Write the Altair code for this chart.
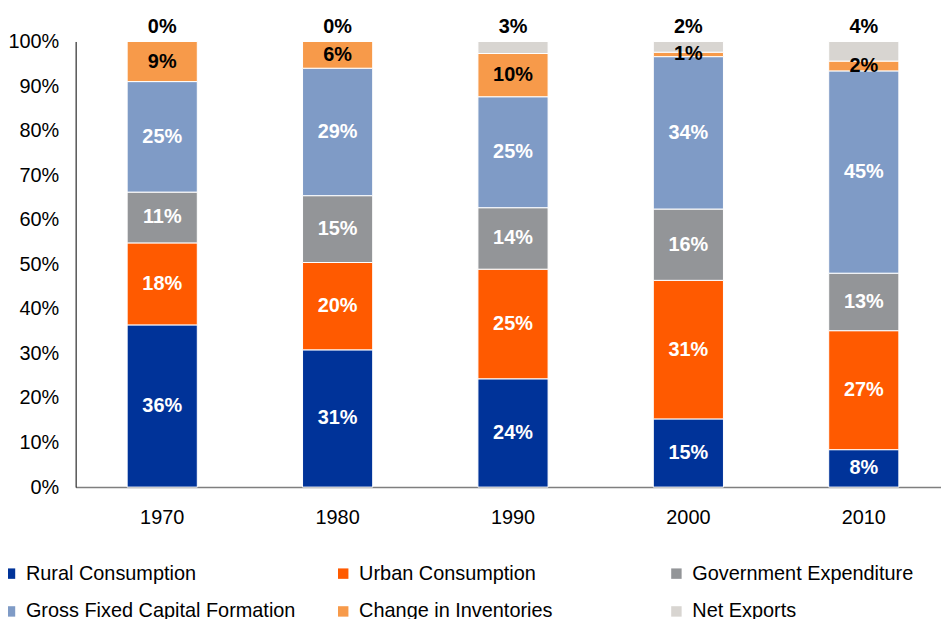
import altair as alt
import pandas as pd

years = ["1970", "1980", "1990", "2000", "2010"]
components = [
    "Rural Consumption",
    "Urban Consumption",
    "Government Expenditure",
    "Gross Fixed Capital Formation",
    "Change in Inventories",
    "Net Exports",
]
colors = ["#003399", "#FF5A00", "#939598", "#7F9BC6", "#F79A4A", "#D8D5D1"]

rural = [36.4, 30.8, 24.3, 15.3, 8.4]
urban = [18.4, 19.6, 24.6, 31.1, 26.7]
government = [11.4, 15.0, 13.8, 16.0, 12.9]
gfcf = [24.8, 28.6, 24.9, 34.2, 45.4]
inventories = [9.0, 6.0, 9.7, 1.0, 2.2]
net_exports = [0.0, 0.0, 2.7, 2.4, 4.4]

series = [rural, urban, government, gfcf, inventories, net_exports]
rows = []
for ci, (name, vals) in enumerate(zip(components, series)):
    for y, v in zip(years, vals):
        rows.append({"year": y, "component": name, "idx": ci, "value": v})
df = pd.DataFrame(rows)

FONT = "Liberation Sans"
FS = 20

base = alt.Chart(df).transform_stack(
    stack="value",
    groupby=["year"],
    sort=[alt.SortField("idx", order="ascending")],
    as_=["y0", "y1"],
).transform_calculate(
    mid="(datum.y0 + datum.y1) / 2",
    label="format(datum.value, '.0f') + '%'",
)

x_enc = alt.X(
    "year:N",
    sort=years,
    title=None,
    scale=alt.Scale(paddingInner=0.6, paddingOuter=0.267, align=0.55),
    axis=alt.Axis(
        labelAngle=0,
        labelFont=FONT,
        labelFontSize=FS,
        labelColor="#000000",
        labelPadding=21,
        ticks=False,
        domainColor="#7f7f7f",
        domainWidth=1.5,
    ),
)

bars = base.mark_bar(stroke="white", strokeWidth=1).encode(
    x=x_enc,
    y=alt.Y(
        "y0:Q",
        title=None,
        scale=alt.Scale(domain=[0, 100], nice=False),
        axis=alt.Axis(
            values=list(range(0, 101, 10)),
            labelExpr="datum.value + '%'",
            labelFont=FONT,
            labelFontSize=FS,
            labelColor="#000000",
            labelPadding=17,
            ticks=False,
            grid=False,
            domainColor="#000000",
            domainWidth=1,
        ),
    ),
    y2="y1:Q",
    color=alt.Color(
        "component:N",
        sort=components,
        scale=alt.Scale(domain=components, range=colors),
        legend=alt.Legend(
            title=None,
            orient="none",
            legendX=-76,
            legendY=525,
            columns=3,
            direction="horizontal",
            gridAlign="all",
            columnPadding=37,
            rowPadding=18,
            symbolType="square",
            symbolSize=110,
            symbolStrokeWidth=0,
            labelFont=FONT,
            labelFontSize=FS,
            labelColor="#000000",
            labelOffset=6,
            labelLimit=400,
        ),
    ),
    order=alt.Order("idx:Q", sort="ascending"),
)

inside = base.transform_filter("datum.idx < 5").mark_text(
    font=FONT, fontSize=FS, fontWeight="bold"
).encode(
    x=alt.X("year:N", sort=years),
    y=alt.Y("mid:Q"),
    text="label:N",
    color=alt.condition("datum.idx == 4", alt.value("#000000"), alt.value("#ffffff")),
)

top = base.transform_filter("datum.idx == 5").mark_text(
    font=FONT, fontSize=FS, fontWeight="bold", baseline="bottom", dy=-5, color="#000000"
).encode(
    x=alt.X("year:N", sort=years),
    y=alt.Y("y1:Q"),
    text="label:N",
)

chart = alt.layer(bars, inside, top).properties(
    width=870,
    height=448,
    autosize=alt.AutoSizeParams(type="none"),
    padding={"left": 68, "top": 32, "right": 0, "bottom": 140},
    background="white",
).configure_view(stroke=None)

chart.save("out.html", embed_options={"renderer": "svg", "actions": False})
